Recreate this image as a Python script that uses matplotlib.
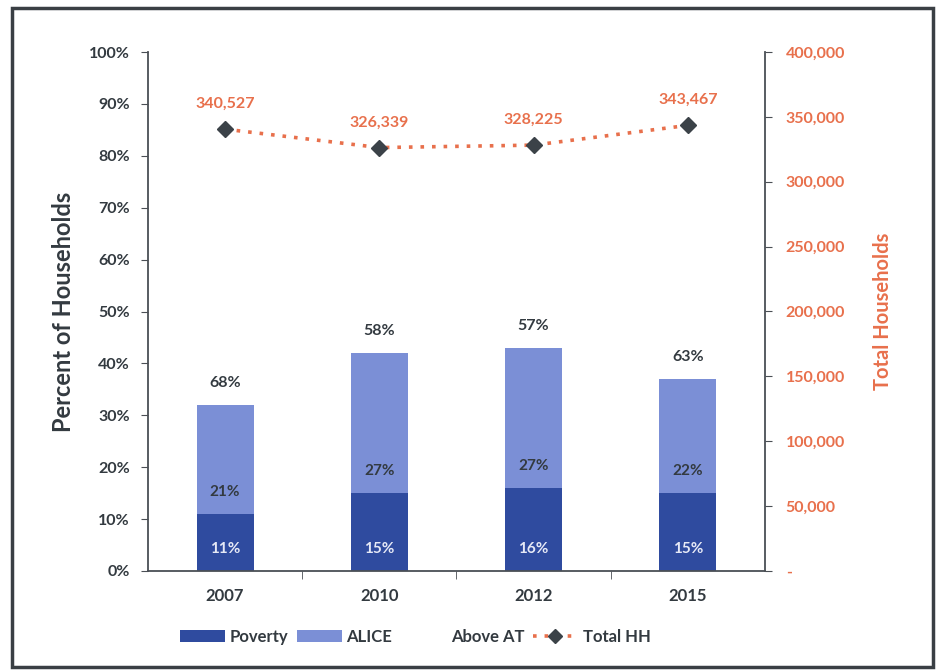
import matplotlib
matplotlib.use("Agg")
import matplotlib.pyplot as plt
from matplotlib.lines import Line2D
from matplotlib.patches import Patch, Rectangle
from matplotlib.ticker import FuncFormatter, MultipleLocator

plt.rcParams["font.family"] = ["Lato", "DejaVu Sans"]

years = ["2007", "2010", "2012", "2015"]
poverty = [11, 15, 16, 15]
alice = [21, 27, 27, 22]
above_at = [68, 58, 57, 63]
total_hh = [340527, 326339, 328225, 343467]

c_pov = "#2f4b9f"
c_alice = "#7b8fd6"
c_coral = "#e8704c"
c_text = "#333a40"
c_axis = "#4a4f55"

fig = plt.figure(figsize=(9.39, 6.70), dpi=100)
ax = fig.add_axes([148 / 939, 1 - 571 / 670, (765 - 148) / 939, (571 - 52) / 670])
ax2 = ax.twinx()

x = list(range(len(years)))
w = 0.37
alice_base = poverty
above_base = [p + a for p, a in zip(poverty, alice)]

ax.bar(x, poverty, w, color=c_pov, label="Poverty", zorder=2)
ax.bar(x, alice, w, bottom=alice_base, color=c_alice, label="ALICE", zorder=2)
ax.bar(x, above_at, w, bottom=above_base, color="white", label="Above AT", zorder=1)

# data labels at the base of each segment
off = 4.2
for i in x:
    ax.text(i, off, f"{poverty[i]}%", ha="center", va="center", fontsize=11,
            fontweight="bold", color="#e6e9f6", zorder=3)
    ax.text(i, alice_base[i] + off, f"{alice[i]}%", ha="center", va="center",
            fontsize=11, fontweight="bold", color=c_text, zorder=3)
    ax.text(i, above_base[i] + off, f"{above_at[i]}%", ha="center", va="center",
            fontsize=11.5, fontweight="bold", color=c_text, zorder=3)

ax.set_xlim(-0.5, 3.5)
ax.set_ylim(0, 100)
ax.yaxis.set_major_locator(MultipleLocator(10))
ax.yaxis.set_major_formatter(FuncFormatter(lambda v, p: f"{v:.0f}%"))
ax.set_xticks(x)
ax.set_xticklabels(years)
ax.set_xticks([0.5, 1.5, 2.5], minor=True)
ax.tick_params(axis="x", which="major", length=0, pad=12, labelsize=12, labelcolor=c_text)
ax.tick_params(axis="x", which="minor", length=6, direction="out", color=c_axis)
ax.tick_params(axis="y", length=5, direction="out", color=c_axis, labelsize=11.5,
               labelcolor=c_text, pad=8)
for lab in ax.get_xticklabels() + ax.get_yticklabels():
    lab.set_fontweight("bold")
ax.set_ylabel("Percent of Households", fontsize=17, fontweight="bold", color=c_text,
              labelpad=10)

ax2.plot(x, total_hh, linestyle=(0, (1, 2.2)), linewidth=2.6, color=c_coral,
         marker="D", markersize=8, markerfacecolor="#3b4248",
         markeredgecolor="#3b4248", label="Total HH", zorder=4)
for i in x:
    ax2.annotate(f"{total_hh[i]:,}", (i, total_hh[i]), xytext=(0, 13),
                 textcoords="offset points", ha="center", va="bottom",
                 fontsize=11.5, fontweight="bold", color=c_coral)
ax2.set_ylim(0, 400000)
ax2.yaxis.set_major_locator(MultipleLocator(50000))
ax2.yaxis.set_major_formatter(FuncFormatter(lambda v, p: "-" if v == 0 else f"{v:,.0f}"))
ax2.tick_params(axis="y", length=5, direction="out", color=c_axis, labelsize=11.5,
                labelcolor=c_coral, pad=10)
for lab in ax2.get_yticklabels():
    lab.set_fontweight("bold")
ax2.set_ylabel("Total Households", fontsize=14.5, fontweight="bold", color=c_coral,
               labelpad=20)

for a in (ax, ax2):
    a.spines["top"].set_visible(False)
    for s in ("left", "right", "bottom"):
        a.spines[s].set_color(c_axis)
        a.spines[s].set_linewidth(1.3)
ax.spines["right"].set_visible(False)
ax2.spines["left"].set_visible(False)
ax2.spines["bottom"].set_visible(False)

handles = [
    Patch(facecolor=c_pov, label="Poverty"),
    Patch(facecolor=c_alice, label="ALICE"),
    Patch(facecolor="white", label="Above AT"),
    Line2D([0], [0], linestyle=(0, (1, 2.2)), linewidth=2.6, color=c_coral, marker="D",
           markersize=7, markerfacecolor="#3b4248", markeredgecolor="#3b4248",
           label="Total HH"),
]
leg = fig.legend(handles=handles, loc="center", bbox_to_anchor=(415 / 939, 1 - 637 / 670),
                 ncol=4, frameon=False, fontsize=12, handlelength=2.7, handleheight=0.7,
                 columnspacing=0.5, handletextpad=0.3)
for t in leg.get_texts():
    t.set_color(c_text)
    t.set_fontweight("bold")

fig.patches.append(Rectangle((12 / 939, 3 / 670), (933 - 12) / 939, (662 - 3) / 670,
                             transform=fig.transFigure, fill=False, edgecolor="#3a3f44",
                             linewidth=2.5))

fig.savefig("out.png", dpi=100, facecolor="white")
